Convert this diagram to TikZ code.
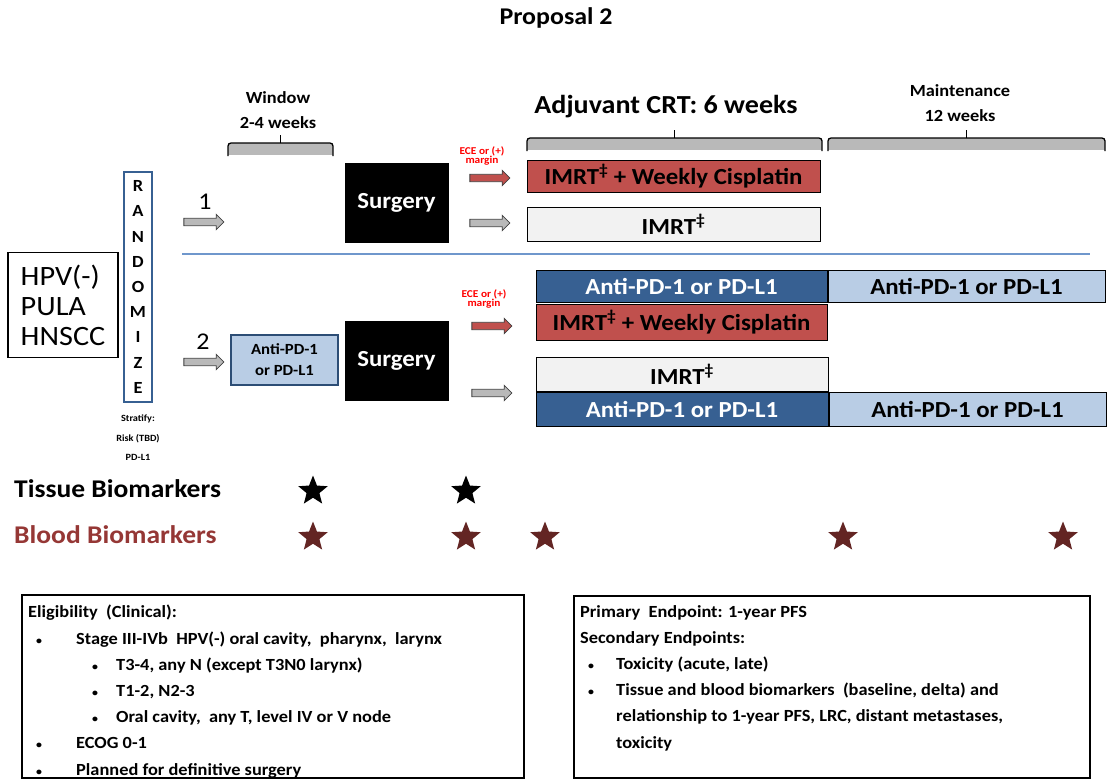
\documentclass[tikz,border=0pt]{standalone}
\usepackage{fontspec}
\setmainfont{Carlito}[FakeStretch=1.08]
\usepackage{xcolor}
\usetikzlibrary{positioning,shapes.geometric,shapes.arrows}

\definecolor{crtred}{HTML}{C0504D}
\definecolor{pdblue}{HTML}{376092}
\definecolor{pdlight}{HTML}{B9CDE5}
\definecolor{imrtgray}{HTML}{F2F2F2}
\definecolor{splitblue}{HTML}{6F97CC}
\definecolor{bloodred}{HTML}{953735}
\definecolor{bloodstar}{HTML}{632523}

\newcommand{\smallbullet}{{\fontsize{11}{11}\selectfont\textbullet}}

\begin{document}
\begin{tikzpicture}[
    x=1pt, y=-1pt,
    box/.style={draw, line width=1pt, inner sep=0pt, minimum height=33pt,
                font=\fontsize{23}{26}\selectfont\bfseries},
    surg/.style={draw, fill=black, text=white, inner sep=0pt, minimum width=103pt,
                 minimum height=79pt, font=\fontsize{23}{26}\selectfont\bfseries},
    blockarr/.style={single arrow, draw=black!75, line width=0.8pt, inner sep=3.3pt,
                     minimum height=40pt, single arrow head extend=4pt},
    ecelabel/.style={font=\fontsize{10.5}{12}\selectfont\bfseries, text=red, align=center},
    biostar/.style={star, star points=5, star point ratio=2.3, minimum size=31pt,
                    inner sep=0pt},
    infotext/.style={anchor=north west, inner sep=0pt, align=left,
                     font=\fontsize{17}{26.2}\selectfont\bfseries},
    frame/.style={line width=1.2pt},
  ]
  \useasboundingbox (0,0) rectangle (1111,782);

  % headings
  \node[font=\fontsize{24}{28}\selectfont\bfseries] (title) at (556,18) {Proposal 2};
  \node[font=\fontsize{17}{25}\selectfont\bfseries, align=center] (win) at (278,110) {Window\\2-4 weeks};
  \node[font=\fontsize{26}{30}\selectfont\bfseries] (adj) at (666,107) {Adjuvant CRT: 6 weeks};
  \node[font=\fontsize{17}{25}\selectfont\bfseries, align=center] (maint) at (960,103) {Maintenance\\12 weeks};

  % brackets over the phases
  \foreach \l/\r/\t in {228/333/143, 527/822/138, 828/1105/138} {
    \fill[gray!55] (\l,\t) rectangle (\r,\t+12);
    \draw[line width=1.3pt, rounded corners=3pt] (\l,\t+13) -- (\l,\t) -- (\r,\t) -- (\r,\t+13);
    \draw[line width=1.3pt] ({(\l+\r)/2},\t) -- ++(0,-8);
  }

  % population and randomization
  \node[draw, line width=1.2pt, minimum width=110pt, minimum height=105pt, align=left,
        font=\fontsize{28}{30}\selectfont] (pop) at (63,305) {HPV(-)\\PULA\\HNSCC};
  \node[draw=pdblue, line width=1.2pt, minimum width=28pt, minimum height=230pt, inner sep=0pt,
        align=center, font=\fontsize{17}{25.2}\selectfont\bfseries] (rand) at (138,287)
    {R\\A\\N\\D\\O\\M\\I\\Z\\E};
  \node[font=\fontsize{9.5}{19.5}\selectfont\bfseries, align=center, below=9pt of rand] (strat)
    {Stratify:\\Risk (TBD)\\PD-L1};

  % arms
  \node[blockarr, fill=gray!55] (arm1) at (202,222) {};
  \node[font=\fontsize{24}{26}\selectfont] (n1) at (205,202) {1};
  \node[blockarr, fill=gray!55] (arm2) at (202,362) {};
  \node[font=\fontsize{24}{26}\selectfont] (n2) at (203,342) {2};
  \draw[splitblue, line width=1.5pt] (182,254) -- (1090,254);

  \node[draw=pdblue!80!black, line width=1.2pt, fill=pdlight, minimum width=107pt,
        minimum height=50pt, inner sep=0pt, align=center, font=\fontsize{15.5}{21}\selectfont\bfseries]
    (window) at (284.5,360) {Anti-PD-1\\or PD-L1};
  \node[surg] (surg1) at (396.5,203) {Surgery};
  \node[surg] (surg2) at (396.5,361) {Surgery};

  % adjuvant, arm 1
  \node[blockarr, fill=crtred] (red1) at (488,178) {};
  \node[ecelabel] (ece1) at (482,156) {ECE or (+)\\[-3pt]margin};
  \node[blockarr, fill=gray!55] (gray1) at (488,223) {};
  \node[box, fill=crtred, minimum width=293pt, minimum height=32pt] (crt1) at (673.5,176)
    {IMRT\textsuperscript{\ddag} + Weekly Cisplatin};
  \node[box, fill=imrtgray, minimum width=293pt, minimum height=34pt] (rt1) at (673.5,224)
    {IMRT\textsuperscript{\ddag}};

  % adjuvant and maintenance, arm 2
  \node[blockarr, fill=crtred] (red2) at (490,326) {};
  \node[ecelabel] (ece2) at (484,299) {ECE or (+)\\[-3pt]margin};
  \node[blockarr, fill=gray!55] (gray2) at (490,393) {};
  \node[box, fill=pdblue, text=white, minimum width=291pt, minimum height=32pt] (io1) at (681.5,286)
    {Anti-PD-1 or PD-L1};
  \node[box, fill=pdlight, minimum width=277pt, minimum height=32pt, right=0pt of io1] (iom1)
    {Anti-PD-1 or PD-L1};
  \node[box, fill=crtred, minimum width=291pt, minimum height=36pt] (crt2) at (681.5,322)
    {IMRT\textsuperscript{\ddag} + Weekly Cisplatin};
  \node[box, fill=imrtgray, minimum width=292pt, minimum height=34pt] (rt2) at (682,374)
    {IMRT\textsuperscript{\ddag}};
  \node[box, fill=pdblue, text=white, minimum width=292pt, minimum height=34pt] (io2) at (682,409)
    {Anti-PD-1 or PD-L1};
  \node[box, fill=pdlight, minimum width=277pt, minimum height=34pt, right=0pt of io2] (iom2)
    {Anti-PD-1 or PD-L1};

  % biomarker time points
  \node[anchor=west, inner sep=0pt, font=\fontsize{25.5}{28}\selectfont\bfseries] (tissue) at (14,489) {Tissue Biomarkers};
  \node[anchor=west, inner sep=0pt, text=bloodred, font=\fontsize{25.5}{28}\selectfont\bfseries] (blood) at (14,535) {Blood Biomarkers};
  \foreach \x [count=\i] in {313,466}
    \node[biostar, fill=black] (ts\i) at (\x,491) {};
  \foreach \x [count=\i] in {313,466,545,843,1063}
    \node[biostar, fill=bloodstar] (bs\i) at (\x,537) {};

  % eligibility and endpoints
  \draw[frame] (22,595) rectangle (524,778);
  \node[infotext] (elig) at (28,605) {%
    Eligibility\ \ (Clinical):\\
    \makebox[48pt][l]{\hspace{8pt}\smallbullet}Stage III-IVb\ \ HPV(-) oral cavity,\ \ pharynx,\ \ larynx\\
    \hspace{48pt}\makebox[24pt][l]{\hspace{16pt}\smallbullet}\hspace{16pt}T3-4, any N\ (except T3N0 larynx)\\
    \hspace{48pt}\makebox[24pt][l]{\hspace{16pt}\smallbullet}\hspace{16pt}T1-2, N2-3\\
    \hspace{48pt}\makebox[24pt][l]{\hspace{16pt}\smallbullet}\hspace{16pt}Oral cavity,\ \ any T, level IV or V node\\
    \makebox[48pt][l]{\hspace{8pt}\smallbullet}ECOG 0-1\\
    \makebox[48pt][l]{\hspace{8pt}\smallbullet}Planned for definitive surgery};
  \draw[frame] (574,596) rectangle (1090,778);
  \node[infotext] (endp) at (580,605) {%
    Primary\ \ Endpoint: 1-year PFS\\
    Secondary Endpoints:\\
    \makebox[36pt][l]{\hspace{8pt}\smallbullet}Toxicity\ (acute, late)\\
    \makebox[36pt][l]{\hspace{8pt}\smallbullet}Tissue and\ blood biomarkers\ \ (baseline, delta) and\\
    \hspace{36pt}relationship to 1-year PFS, LRC, distant metastases,\\
    \hspace{36pt}toxicity};
\end{tikzpicture}
\end{document}
